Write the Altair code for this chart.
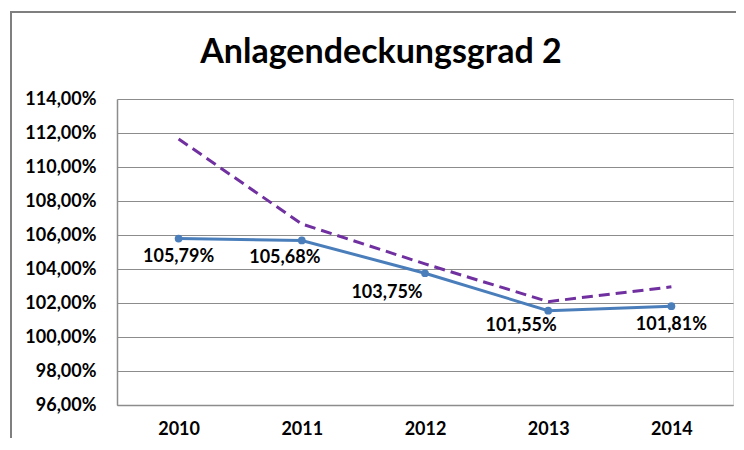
import altair as alt
import pandas as pd

years = ["2010", "2011", "2012", "2013", "2014"]
blue_values = [105.79, 105.68, 103.75, 101.55, 101.81]
purple_values = [111.65, 106.65, 104.3, 102.08, 102.95]
y_ticks = [96, 98, 100, 102, 104, 106, 108, 110, 112, 114]
title_text = "Anlagendeckungsgrad 2"

# label nudges (styling, pixels)
label_dx = [0, -17, -38, -27, 0]
label_dy = [18, 18, 20, 15, 19]

blue = pd.DataFrame({
    "year": years,
    "value": blue_values,
    "label": [f"{v:.2f}".replace(".", ",") + "%" for v in blue_values],
})
purple = pd.DataFrame({"year": years, "value": purple_values})

FONT = "Lato"
BLUE = "#4A7EBB"
PURPLE = "#7030A0"
GRID = "#8c8c8c"
FRAME = "#7f7f7f"

x_enc = alt.X("year:O", title=None, sort=years,
              axis=alt.Axis(labelAngle=0, labelFontWeight="bold", labelFontSize=18,
                            labelColor="black", labelFont=FONT, ticks=False,
                            labelPadding=15, domainColor=GRID, domainWidth=1.5))
y_scale = alt.Scale(domain=[96, 114], nice=False, zero=False)
y_enc = alt.Y("value:Q", title=None, scale=y_scale,
              axis=alt.Axis(values=y_ticks,
                            labelExpr="replace(format(datum.value, '.2f'), '.', ',') + '%'",
                            labelFontWeight="bold", labelFontSize=18, labelColor="black",
                            labelFont=FONT, ticks=False, labelPadding=21,
                            grid=True, gridColor=GRID, gridWidth=1.2,
                            domainColor=GRID, domainWidth=1.5))

one = alt.Chart(blue).transform_filter("datum.year == '2010'")

frame_left = one.mark_rule(color=FRAME, strokeWidth=2).encode(
    x=alt.value(-106), y=alt.value(-87), y2=alt.value(340)
)
frame_top = one.mark_rule(color=FRAME, strokeWidth=2).encode(
    x=alt.value(-107), x2=alt.value(619), y=alt.value(-87)
)

title = one.mark_text(fontSize=34, fontWeight="bold", font=FONT, color="black",
                      baseline="middle", align="center").encode(
    x=alt.value(264), y=alt.value(-46), text=alt.value(title_text)
)

purple_line = alt.Chart(purple).mark_line(color=PURPLE, strokeWidth=3, strokeDash=[11, 6]).encode(
    x=x_enc, y=y_enc
)
blue_line = alt.Chart(blue).mark_line(color=BLUE, strokeWidth=3).encode(x=x_enc, y=y_enc)
blue_pts = alt.Chart(blue).mark_circle(color=BLUE, size=60, opacity=1).encode(x=x_enc, y=y_enc)

label_layers = []
for yr, dx, dy in zip(years, label_dx, label_dy):
    label_layers.append(
        alt.Chart(blue).mark_text(fontSize=18, fontWeight="bold", font=FONT, color="black",
                                  baseline="middle", align="center", dx=dx, dy=dy).encode(
            x=x_enc, y=y_enc, text="label:N"
        ).transform_filter(f"datum.year == '{yr}'")
    )

chart = alt.layer(frame_left, frame_top, title, purple_line, blue_line, blue_pts,
                  *label_layers).properties(
    width=616, height=306,
    autosize=alt.AutoSizeParams(type="none"),
    padding={"left": 109, "top": 91, "right": 3, "bottom": 33},
).configure_view(stroke=None).configure(background="white")

chart.save("out.html", embed_options={"renderer": "svg", "actions": False})
